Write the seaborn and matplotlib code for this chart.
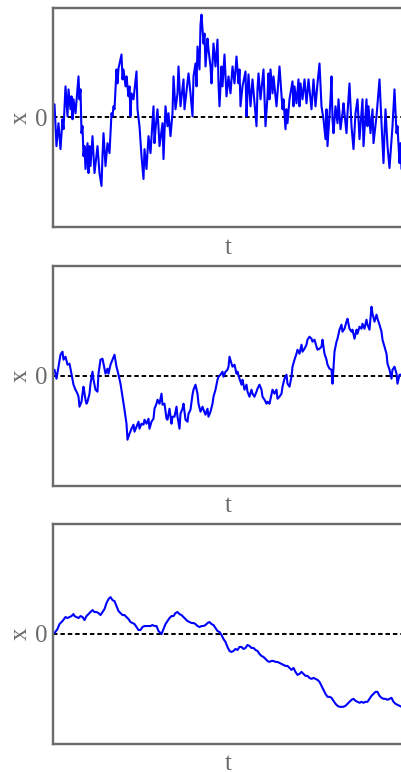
import matplotlib
matplotlib.use("Agg")
import matplotlib.pyplot as plt
import seaborn as sns
import pandas as pd

# Three sample paths x(t), each shown against the zero level.
t_noisy = [1, 3, 5, 7, 9, 10, 12, 14, 15, 17,
           18, 19, 20, 22, 25, 26, 27, 28, 29, 30,
           31, 32, 34, 35, 36, 37, 39, 41, 44, 46,
           48, 49, 50, 52, 54, 56, 58, 59, 60, 61,
           63, 64, 65, 68, 69, 70, 72, 73, 75, 76,
           77, 78, 80, 83, 84, 86, 88, 90, 91, 93,
           95, 97, 100, 101, 102, 104, 106, 109, 110, 112,
           114, 115, 117, 119, 120, 122, 124, 125, 127, 130,
           131, 135, 137, 139, 140, 142, 143, 144, 146, 147,
           148, 150, 151, 152, 154, 155, 157, 158, 160, 162,
           164, 165, 166, 168, 169, 171, 173, 175, 177, 179,
           181, 183, 185, 186, 187, 189, 192, 193, 194, 195,
           197, 199, 203, 204, 205, 207, 210, 212, 214, 215,
           216, 217, 219, 220, 223, 226, 229, 230, 232, 233,
           234, 236, 239, 240, 241, 243, 245, 246, 247, 249,
           251, 253, 255, 258, 260, 262, 264, 266, 268, 270,
           272, 273, 274, 277, 278, 279, 280, 282, 284, 285,
           287, 289, 290, 293, 294, 296, 298, 300, 302, 304,
           306, 309, 310, 313, 314, 315, 317, 319, 320, 323,
           326, 328, 330, 331, 332, 334, 336, 338, 339, 341,
           343, 344, 346, 347, 348]
x_noisy = [13, -29, -6, -32, -2, -12, 31, 1, 28, 8,
           21, -2, 18, 4, 41, 18, 28, -16, -9, -39,
           -29, -52, -26, -56, -29, -49, -19, -56, -29, -56,
           -69, -39, -16, -49, -26, -36, 4, 1, 11, 8,
           48, 34, 49, 63, 38, 48, 31, 41, 21, 31,
           1, 24, 18, 46, 8, -9, -39, -62, -32, -52,
           -19, -36, 11, -26, -12, 8, -29, -6, -42, 11,
           -9, 4, -19, 4, 41, 8, 24, 51, 11, 38,
           8, 44, 24, 1, 41, 54, 31, 71, 48, 93,
           103, 74, 84, 51, 79, 68, 51, 34, 74, 51,
           78, 34, 11, 51, 31, 63, 21, 41, 24, 51,
           34, 61, 34, 48, 11, 31, 46, 1, 24, 43,
           11, 38, -9, 28, 44, 18, 48, -9, 21, 44,
           18, 48, 24, 41, 11, 51, 8, 18, -12, 8,
           -6, 18, 36, 11, 31, 14, 38, 11, 34, 18,
           38, 14, 38, 8, 38, 11, 34, 54, 11, -2,
           -22, 8, -29, 18, 41, -2, -16, 11, -6, 18,
           -12, 4, 14, -16, 4, 34, -9, -32, 4, 18,
           -22, 18, -29, 18, -9, 11, -16, 8, -26, 1,
           38, -6, -46, -16, 8, -29, -51, -22, -9, 28,
           -16, -9, -46, -26, -52]

t_mid = [1, 3, 5, 7, 9, 10, 12, 14, 16, 17,
         19, 20, 22, 24, 25, 26, 28, 29, 30, 32,
         33, 34, 36, 37, 39, 40, 42, 44, 45, 47,
         49, 50, 52, 54, 55, 57, 59, 61, 63, 65,
         67, 69, 71, 73, 74, 76, 78, 80, 81, 83,
         85, 86, 88, 90, 91, 93, 95, 96, 98, 100,
         101, 103, 104, 106, 108, 109, 111, 113, 114, 116,
         118, 119, 121, 123, 124, 126, 127, 129, 130, 132,
         134, 135, 137, 139, 140, 142, 144, 145, 147, 149,
         150, 152, 154, 155, 157, 159, 160, 162, 164, 165,
         167, 169, 170, 172, 174, 175, 176, 178, 179, 181,
         183, 184, 186, 188, 189, 191, 193, 194, 196, 198,
         199, 201, 203, 204, 206, 208, 209, 211, 213, 214,
         216, 218, 219, 221, 223, 224, 226, 228, 229, 231,
         233, 234, 236, 238, 239, 241, 243, 244, 246, 248,
         249, 251, 253, 254, 256, 258, 259, 261, 263, 264,
         266, 268, 269, 271, 273, 274, 276, 278, 279, 281,
         283, 284, 286, 288, 289, 291, 293, 294, 296, 298,
         299, 301, 303, 304, 306, 308, 309, 311, 313, 314,
         316, 318, 319, 321, 323, 324, 326, 328, 329, 331,
         333, 334, 336, 338, 339, 341, 343, 344, 346, 348,
         349]
x_mid = [6, -3, 9, 21, 24, 16, 19, 11, 12, 7,
         -4, -9, -14, -18, -21, -31, -26, -18, -11, -24,
         -28, -26, -18, -8, 4, -4, -14, -16, 2, 16,
         17, 12, 2, 7, 2, 11, 16, 21, 9, 1,
         -8, -21, -34, -48, -64, -58, -53, -49, -56, -51,
         -46, -53, -48, -49, -44, -48, -43, -53, -46, -43,
         -33, -28, -24, -28, -18, -29, -28, -43, -44, -33,
         -48, -41, -41, -31, -41, -53, -38, -33, -28, -44,
         -46, -38, -34, -19, -14, -9, -18, -28, -36, -31,
         -34, -39, -33, -41, -36, -28, -21, -14, -4, -1,
         1, 4, -1, 4, 6, 9, 19, 12, 9, 11,
         2, 4, -3, -9, -4, -14, -9, -16, -21, -14,
         -18, -21, -16, -13, -9, -14, -21, -24, -28, -26,
         -28, -19, -14, -18, -14, -23, -21, -18, -11, -3,
         1, -8, -11, -1, 9, 16, 22, 26, 22, 31,
         24, 27, 31, 36, 39, 37, 34, 36, 29, 26,
         27, 29, 36, 22, 16, 11, 7, 6, -8, 24,
         34, 37, 46, 51, 44, 47, 54, 57, 47, 44,
         46, 37, 46, 42, 49, 47, 52, 47, 56, 51,
         46, 69, 62, 54, 61, 57, 51, 44, 36, 29,
         22, 12, 6, -3, 6, 9, 2, -8, 1, 1,
         2]

t_smooth = [1, 4, 6, 9, 12, 14, 16, 18, 20, 21,
            23, 25, 27, 29, 31, 33, 35, 37, 39, 41,
            43, 45, 47, 49, 51, 53, 55, 57, 59, 61,
            63, 65, 67, 69, 71, 73, 75, 77, 79, 81,
            83, 85, 87, 89, 91, 93, 95, 97, 99, 101,
            103, 105, 107, 108,
            110, 112, 114, 116, 118, 120, 122, 124, 126, 128,
            130, 132, 134, 136, 138, 140, 142, 144, 146, 148,
            150, 152, 154, 156, 158, 160, 162, 164, 166, 168,
            170, 172, 174, 176, 178, 180, 182, 184, 186, 188,
            190, 192, 194, 196, 198, 200, 202, 204, 206, 208,
            210, 212, 214, 216, 218, 220, 222, 224, 226, 228,
            230, 232, 234, 236, 238, 240, 242, 244, 246, 248,
            250, 252, 254, 256, 258, 260, 262, 264, 266, 268,
            270, 272, 274, 276, 278, 280, 282, 284, 286, 288,
            290, 292, 294, 296, 298, 300, 302, 304, 306, 308,
            310, 312, 314, 316, 318, 320, 322, 324, 326, 328,
            330, 332, 334, 336, 338, 340, 342, 344, 346, 348,
            349]
x_smooth = [1, 5, 10, 13, 17, 16, 17, 18, 20, 18,
            17, 16, 18, 17, 14, 18, 20, 22, 24, 22,
            22, 21, 19, 22, 25, 31, 35, 37, 34, 33,
            28, 23, 21, 19, 19, 17, 15, 12, 11, 10,
            7, 4, 4, 7, 8, 8, 8, 8, 9, 8,
            8, 3, 1, 0,
            5, 10, 13, 16, 18, 18, 21, 22, 20, 19,
            17, 15, 13, 12, 11, 11, 10, 8, 7, 8,
            8, 9, 11, 12, 10, 9, 6, 3, 2, -1,
            -5, -8, -13, -17, -18, -17, -15, -16, -13, -13,
            -15, -14, -11, -12, -14, -14, -16, -17, -20, -22,
            -23, -25, -27, -28, -27, -27, -28, -28, -29, -30,
            -31, -32, -32, -34, -36, -34, -38, -41, -40, -38,
            -40, -42, -42, -44, -45, -44, -45, -46, -48, -52,
            -56, -60, -63, -63, -64, -67, -70, -72, -73, -73,
            -73, -72, -70, -68, -66, -65, -67, -68, -69, -68,
            -69, -68, -68, -65, -62, -60, -58, -58, -62, -64,
            -65, -65, -66, -65, -64, -68, -70, -71, -72, -73,
            -74]

paths = [(t_noisy, x_noisy), (t_mid, x_mid), (t_smooth, x_smooth)]

sns.set_theme(style="white")
plt.rcParams["font.family"] = ["Liberation Serif", "DejaVu Serif"]

GREY = "#6b6b6b"
W, H = 402, 772
fig = plt.figure(figsize=(W / 100, H / 100), dpi=100)

# axes boxes in pixels: (top, bottom)
rows = [(7.7, 226.8), (265.7, 485.7), (524.3, 743.7)]
left_px, width_px = 53.5, 350.0

for (top, bot), (tt, xx) in zip(rows, paths):
    ax = fig.add_axes([left_px / W, (H - bot) / H, width_px / W, (bot - top) / H])
    df = pd.DataFrame({"t": tt, "x": xx})
    ax.axhline(0, color="black", lw=1.4, ls=(0, (2.3, 1.5)), zorder=1)
    sns.lineplot(data=df, x="t", y="x", ax=ax, color="#0000ff", lw=1.5,
                 estimator=None, sort=False, zorder=2)
    ax.set_xlim(0, 350)
    ax.set_ylim(-110, 110)
    ax.set_xticks([])
    ax.set_yticks([0])
    ax.set_yticklabels(["0"])
    ax.tick_params(axis="y", length=0, pad=4.5, labelsize=18, labelcolor=GREY)
    ax.set_xlabel("t", fontsize=18, color=GREY, labelpad=7)
    ax.set_ylabel("x", fontsize=18, color=GREY, labelpad=2)
    for sp in ax.spines.values():
        sp.set_color(GREY)
        sp.set_linewidth(1.7)

fig.savefig("out.png", dpi=100)
